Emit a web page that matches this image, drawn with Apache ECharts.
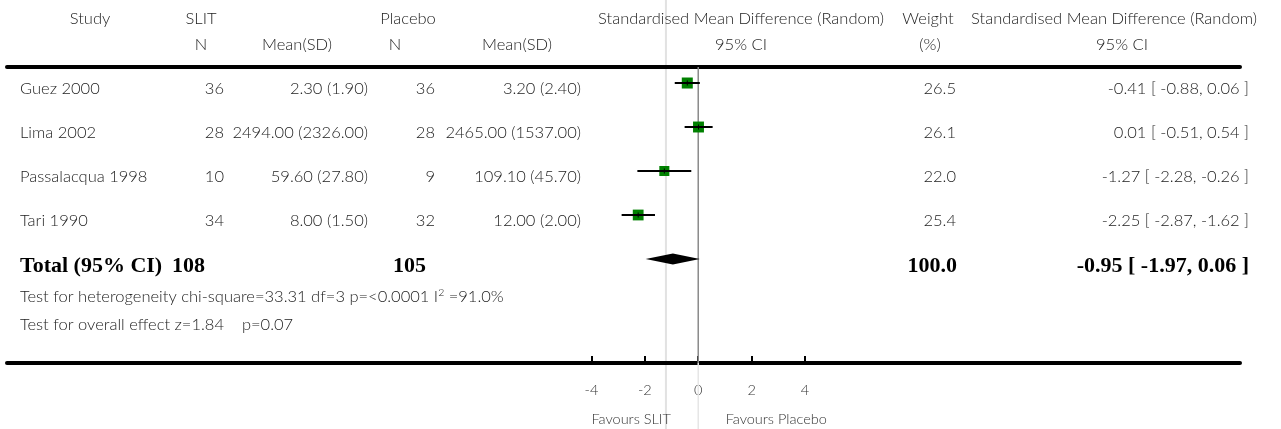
<!DOCTYPE html>
<html>
<head>
<meta charset="utf-8">
<script src="https://cdn.jsdelivr.net/npm/echarts@6/dist/echarts.min.js"></script>
<style>
  html, body { margin: 0; padding: 0; background: #fff; }
  #chart { width: 1281px; height: 429px; }
</style>
</head>
<body>
<div id="chart"></div>
<script>
// Sublingual immunotherapy (SLIT) vs placebo: standardised mean difference, random effects
const studies = ['Guez 2000', 'Lima 2002', 'Passalacqua 1998', 'Tari 1990'];
const slitN = [36, 28, 10, 34];
const slitMeanSD = ['2.30 (1.90)', '2494.00 (2326.00)', '59.60 (27.80)', '8.00 (1.50)'];
const placeboN = [36, 28, 9, 32];
const placeboMeanSD = ['3.20 (2.40)', '2465.00 (1537.00)', '109.10 (45.70)', '12.00 (2.00)'];
const smd = [-0.41, 0.01, -1.27, -2.25];
const ciLow = [-0.88, -0.51, -2.28, -2.87];
const ciHigh = [0.06, 0.54, -0.26, -1.62];
const weights = [26.5, 26.1, 22.0, 25.4];

const totalN = [108, 105];
const totalWeight = 100.0;
const pooled = [-0.95, -1.97, 0.06]; // estimate, lower, upper

const guideLine = [-1.21];
const xTicks = [-4, -2, 0, 2, 4];
const heterogeneityText = 'Test for heterogeneity chi-square=33.31 df=3 p=<0.0001 I{sup|2} =91.0%';
const overallText = 'Test for overall effect z=1.84    p=0.07';
const favours = ['Favours SLIT', 'Favours Placebo'];

const FONT = 'Lato, "Open Sans", sans-serif';
const SERIF = '"Liberation Serif", "DejaVu Serif", serif';
const TXT = '#222';
const FS = 16.5;
const FW = 300;

const fmtCI = (e, l, h) => `${e.toFixed(2)} [ ${l.toFixed(2)}, ${h.toFixed(2)} ]`;

const chart = echarts.init(document.getElementById('chart'), null, { renderer: 'canvas' });

const studyData = studies.map((s, i) => [i, smd[i], ciLow[i], ciHigh[i], weights[i]]);
const totalRow = studies.length;

const option = {
  animation: false,
  backgroundColor: '#fff',
  grid: { left: 7, right: 41, top: 67, bottom: 66 },
  xAxis: [
    {
      type: 'value', position: 'bottom', min: -25.9, max: 20.3,
      splitLine: { show: false },
      axisLine: { show: true, onZero: false, lineStyle: { color: '#000', width: 4 } },
      axisTick: { show: true, inside: true, length: 7, customValues: xTicks, lineStyle: { color: '#000', width: 2 } },
      axisLabel: { show: true, customValues: xTicks, margin: 20, color: '#333', fontFamily: FONT, fontWeight: FW, fontSize: 14.5 }
    },
    {
      type: 'value', position: 'top', min: -25.9, max: 20.3,
      splitLine: { show: false },
      axisLine: { show: true, onZero: false, lineStyle: { color: '#000', width: 4 } },
      axisTick: { show: false }, axisLabel: { show: false }
    }
  ],
  yAxis: {
    type: 'value', inverse: true, min: -0.364, max: 6.364, show: false
  },
  series: [
    {
      // faint guide line across the whole figure
      type: 'custom', z: 0, clip: false,
      data: guideLine.map(v => [v]),
      renderItem(params, api) {
        const x = api.coord([api.value(0), 0])[0];
        return { type: 'line', shape: { x1: x, y1: 0, x2: x, y2: 429 },
          style: { stroke: '#e2e2e2', lineWidth: 2 } };
      }
    },
    {
      // line of no effect
      type: 'custom', z: 1, clip: false,
      data: [[0]],
      renderItem(params, api) {
        const cs = params.coordSys;
        const x = api.coord([api.value(0), 0])[0];
        return { type: 'group', children: [
          { type: 'line', shape: { x1: x, y1: cs.y, x2: x, y2: cs.y + cs.height },
            style: { stroke: '#8a8a8a', lineWidth: 1.5 } },
          { type: 'line', shape: { x1: x, y1: cs.y + cs.height, x2: x, y2: 429 },
            style: { stroke: '#e6e6e6', lineWidth: 1.5 } }
        ] };
      }
    },
    {
      // study estimates: weighted square with 95% CI
      type: 'custom', z: 3,
      data: studyData,
      renderItem(params, api) {
        const row = api.value(0);
        const c = api.coord([api.value(1), row]);
        const lo = api.coord([api.value(2), row]);
        const hi = api.coord([api.value(3), row]);
        const s = Math.sqrt(api.value(4)) * 2.14;
        return { type: 'group', children: [
          { type: 'rect', shape: { x: c[0] - s / 2, y: c[1] - s / 2, width: s, height: s },
            style: { fill: '#008000' } },
          { type: 'line', shape: { x1: lo[0], y1: c[1], x2: hi[0], y2: c[1] },
            style: { stroke: '#000', lineWidth: 2 } },
          { type: 'line', shape: { x1: c[0], y1: c[1] - 2.5, x2: c[0], y2: c[1] + 2.5 },
            style: { stroke: '#000', lineWidth: 1 } }
        ] };
      }
    },
    {
      // pooled estimate diamond
      type: 'custom', z: 3,
      data: [[totalRow, pooled[0], pooled[1], pooled[2]]],
      renderItem(params, api) {
        const row = api.value(0);
        const c = api.coord([api.value(1), row]);
        const lo = api.coord([api.value(2), row]);
        const hi = api.coord([api.value(3), row]);
        const h = 5.5;
        return { type: 'polygon', shape: { points: [[lo[0], c[1]], [c[0], c[1] - h], [hi[0], c[1]], [c[0], c[1] + h]] },
          style: { fill: '#000' } };
      }
    }
  ]
};
chart.setOption(option);

// table text, placed on the same rows as the plotted estimates
const rowY = i => chart.convertToPixel({ yAxisIndex: 0 }, i) + 6;
const x0 = chart.convertToPixel({ xAxisIndex: 0 }, 0);
const texts = [];
const t = (x, y, text, align, extra) => texts.push({
  type: 'text', x, y, z: 10,
  style: Object.assign({ text, fill: TXT, font: `${FW} ${FS}px ${FONT}`, align, verticalAlign: 'middle' }, extra || {})
});

// header
const h1 = 19, h2 = 45;
t(90, h1, 'Study', 'center');
t(201, h1, 'SLIT', 'center');
t(408, h1, 'Placebo', 'center');
t(741, h1, 'Standardised Mean Difference (Random)', 'center');
t(928, h1, 'Weight', 'center');
t(1114, h1, 'Standardised Mean Difference (Random)', 'center');
t(201, h2, 'N', 'center');
t(297, h2, 'Mean(SD)', 'center');
t(395, h2, 'N', 'center');
t(517, h2, 'Mean(SD)', 'center');
t(741, h2, '95% CI', 'center');
t(930, h2, '(%)', 'center');
t(1122, h2, '95% CI', 'center');

// study rows
studies.forEach((s, i) => {
  const y = rowY(i);
  t(20, y, s, 'left');
  t(224, y, String(slitN[i]), 'right');
  t(368, y, slitMeanSD[i], 'right');
  t(435, y, String(placeboN[i]), 'right');
  t(581, y, placeboMeanSD[i], 'right');
  t(956, y, weights[i].toFixed(1), 'right');
  t(1249, y, fmtCI(smd[i], ciLow[i], ciHigh[i]), 'right');
});

// total row
const bold = { font: `bold 22px ${SERIF}`, fill: '#000' };
const ty = rowY(totalRow) + 1;
t(20, ty, 'Total (95% CI)', 'left', bold);
t(205, ty, String(totalN[0]), 'right', bold);
t(426, ty, String(totalN[1]), 'right', bold);
t(957, ty, totalWeight.toFixed(1), 'right', bold);
t(1249, ty, fmtCI(pooled[0], pooled[1], pooled[2]), 'right', bold);

// test statistics
texts.push({ type: 'text', x: 20, y: 297, z: 10, style: {
  text: heterogeneityText, fill: TXT, font: `${FW} ${FS}px ${FONT}`, verticalAlign: 'middle',
  rich: { sup: { fontSize: 10.5, fontWeight: FW, verticalAlign: 'top', padding: [0, 0, 9, 0], fill: TXT, fontFamily: FONT } }
} });
t(20, 325, overallText, 'left');

// favours labels under the axis
t(x0 - 67, 419, favours[0], 'center', { font: `${FW} 14.5px ${FONT}`, fill: '#333' });
t(x0 + 78, 419, favours[1], 'center', { font: `${FW} 14.5px ${FONT}`, fill: '#333' });

chart.setOption({ graphic: { elements: texts } });
</script>
</body>
</html>
